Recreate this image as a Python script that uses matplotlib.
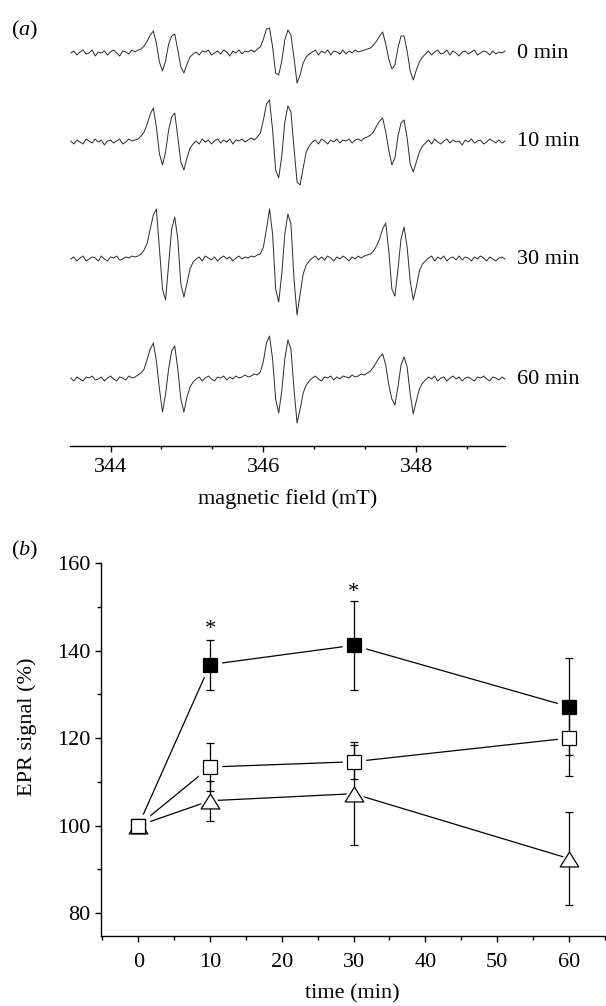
"""EPR spectra over time (a) and EPR signal change (b)."""

import matplotlib
matplotlib.use("Agg")
import matplotlib.pyplot as plt
import numpy as np
from matplotlib.path import Path
from matplotlib.ticker import AutoMinorLocator, MultipleLocator

plt.rcParams["font.family"] = ["Liberation Serif", "DejaVu Serif"]
plt.rcParams["mathtext.fontset"] = "custom"
plt.rcParams["mathtext.rm"] = "Liberation Serif"
plt.rcParams["mathtext.it"] = "Liberation Serif:italic"

# ---- panel (a): spectra sampled every 0.04 mT, intensity in arbitrary units
field_start, field_step, n_points = 343.48, 0.04, 143
trace_labels = ["0 min", "10 min", "30 min", "60 min"]

spec_0 = [0, 2, -2, 1, 3, -1, 0, 3, -3, 1, 0, 2, -2, 1, 3, 0, -3, 2, 1, -1, 3, 1,
          3, 4, 7, 12, 18, 22, 10, -9, -18, -8, 9, 17, 19, 3, -14, -20, -11, -4, -1,
          1, -2, 2, 1, 3, -2, 0, 2, -1, 3, 1, -3, 2, 0, 3, -1, 2, 1, 3, 1, 4,
          6, 14, 24, 25, 6, -20, -22, -8, 13, 23, 18, -5, -30, -22, -10, -4, -1,
          1, 3, -2, 2, 0, 3, -2, 2, 1, -1, 3, -1, 2, 0, 3, 1, 2, 3, 4,
          5, 8, 12, 17, 21, 9, -6, -16, -12, 5, 17, 17, 2, -18, -27, -17, -9, -4, -1,
          2, -2, 1, 3, -1, 0, 3, -2, 2, 0, -3, 1, 2, -1, 1, 3, -2, 0, 2, 1, -2, 2, -1, 1, 0, 2]
spec_10 = [1, -2, 2, 0, -2, 3, 1, -1, 3, 0, 2, -3, 1, 2, -1, 1, 3, -2, 0, 3, 1, 2,
           3, 6, 10, 18, 28, 34, 15, -12, -23, -10, 12, 25, 29, 5, -20, -28, -16, -6, -2,
           1, -2, 3, 0, 2, -2, 1, 3, -1, 2, 0, 3, -2, 2, 1, 3, 0, 2, 4, 2, 5,
           9, 22, 38, 42, 12, -28, -36, -14, 20, 36, 30, -6, -40, -43, -26, -10, -4,
           0, 2, -2, 3, 1, -2, 2, 0, 3, -1, 2, 1, 3, -1, 2, 3, 1, 4, 5,
           7, 10, 16, 21, 24, 10, -8, -23, -16, 6, 19, 22, 4, -22, -30, -20, -10, -4, -1,
           2, -2, 3, 0, -2, 1, 3, -1, 2, 0, 1, -3, 2, 0, 3, -1, 1, 2, -2, 0, 3, 1, -1, 2, -1, 1]
spec_30 = [0, 2, -2, 1, 3, -2, 0, 2, 1, -2, 3, 0, -2, 2, 1, 3, -1, 0, 2, 1, 3, 2,
           3, 5, 9, 16, 30, 44, 50, 10, -30, -41, -5, 30, 42, 20, -25, -38, -24, -10, -3,
           0, 2, -2, 3, 1, -1, 2, -2, 1, 3, 0, 2, -2, 1, 3, 0, 2, 1, 3, 2, 4,
           5, 12, 30, 50, 25, -30, -43, -15, 25, 45, 35, -20, -56, -35, -15, -6, -2,
           1, 3, -1, 2, -1, 3, 1, -2, 2, 0, 3, 1, -2, 2, 0, 3, 1, 3, 4,
           5, 8, 13, 20, 30, 36, 8, -30, -37, -10, 20, 32, 12, -22, -41, -28, -12, -5, -2,
           1, 3, -2, 2, 0, 3, -2, 1, 2, -1, 3, -1, 2, 1, -2, 2, 0, 3, 1, -2, 2, 0, -2, 1, 2, 0]
spec_60 = [1, -2, 2, 0, -2, 2, 1, 3, -1, 0, 2, -2, 1, 3, 0, -2, 2, 1, -1, 3, 1, 2,
           4, 6, 10, 20, 30, 36, 18, -10, -33, -15, 10, 28, 33, 10, -20, -33, -18, -8, -3,
           0, 2, -2, 1, 3, 0, -2, 2, 1, 3, -1, 2, 0, 3, 1, 2, 4, 2, 3, 5, 4,
           7, 18, 36, 43, 20, -20, -34, -12, 20, 39, 30, -10, -44, -30, -14, -6, -2,
           1, 3, 0, -2, 2, 1, 3, -1, 2, 0, 3, 2, 1, 4, 2, 3, 5, 4, 6,
           8, 12, 17, 22, 25, 14, -6, -20, -26, -8, 14, 22, 12, -15, -35, -22, -10, -4, -1,
           2, 0, 3, -2, 1, 2, -2, 1, 3, 0, 2, -2, 1, 2, 0, -2, 2, 1, 3, 0, -2, 2, 1, -1, 2, 0]
spectra = [spec_0, spec_10, spec_30, spec_60]

# ---- panel (b): EPR signal (%) vs time
time_min = [0, 10, 30, 60]
filled_sq = [100, 136.8, 141.2, 127.2]
filled_sq_err = [0, 5.7, 10.1, 11.0]
open_sq = [100, 113.4, 114.6, 120.0]
open_sq_err = [0, 5.5, 3.9, 8.6]
triangle = [100, 105.7, 107.3, 92.5]
triangle_err = [0, 4.6, 11.8, 10.6]
star_times = [10, 30]
star_values = [144.9, 153.2]

# layout
W, H = 606, 1006
trace_offsets = [-53, -142, -259, -379]

fig = plt.figure(figsize=(W / 100, H / 100), dpi=100)

# ---------------- panel (a)
ax_a = fig.add_axes([70 / W, 560 / H, 435 / W, 446 / H])
field = field_start + field_step * np.arange(n_points)
for spec, off, lab in zip(spectra, trace_offsets, trace_labels):
    ax_a.plot(field, off + np.asarray(spec), color="#2a2a2a", lw=0.7, clip_on=False)
    ax_a.text(349.32, off, lab, fontsize=16, va="center", ha="left")
ax_a.set_xlim(343.47, 349.16)
ax_a.set_ylim(-446, 0)
for side in ["left", "right", "top"]:
    ax_a.spines[side].set_visible(False)
ax_a.spines["bottom"].set_linewidth(1.0)
ax_a.set_yticks([])
ax_a.xaxis.set_major_locator(MultipleLocator(2))
ax_a.xaxis.set_minor_locator(AutoMinorLocator(3))
ax_a.tick_params(axis="x", which="major", direction="out", length=4, width=1.0,
                 labelsize=16, pad=5)
ax_a.tick_params(axis="x", which="minor", direction="out", length=2.5, width=1.0)
ax_a.set_xlabel("magnetic field (mT)", fontsize=16, labelpad=8)
ax_a.patch.set_visible(False)
fig.text(11 / W, 1 - 30 / H, "($a$)", fontsize=16, va="center", ha="left")

# ---------------- panel (b)
tri = Path([(-1, -0.8), (1, -0.8), (0, 0.8), (-1, -0.8)], closed=True)
ax_b = fig.add_axes([101 / W, 70 / H, 503.6 / W, 373 / H])
series = [
    (filled_sq, filled_sq_err, "s", 9.5, "black"),
    (triangle, triangle_err, tri, 13.4, "white"),
    (open_sq, open_sq_err, "s", 9.5, "white"),
]
for vals, err, mk, ms, fc in series:
    ax_b.plot(time_min, vals, color="black", lw=0.9, zorder=2)
    ax_b.plot(time_min, vals, ls="none", marker=mk, ms=ms + 7, mfc="white",
              mec="white", zorder=3)
for vals, err, mk, ms, fc in series:
    ax_b.errorbar(time_min[1:], vals[1:], yerr=err[1:], fmt="none", ecolor="black",
                  elinewidth=0.9, capsize=2.6, capthick=0.9, zorder=4)
for k, (vals, err, mk, ms, fc) in enumerate(series):
    ax_b.plot(time_min, vals, ls="none", marker=mk, ms=ms, mfc=fc, mec="black",
              mew=0.9, zorder=5 + k)
for t, v in zip(star_times, star_values):
    ax_b.text(t, v, "*", fontsize=16, ha="center", va="center")

ax_b.set_xlim(-5.2, 65)
ax_b.set_ylim(74.8, 160)
for side in ["right", "top"]:
    ax_b.spines[side].set_visible(False)
for side in ["left", "bottom"]:
    ax_b.spines[side].set_linewidth(1.0)
ax_b.xaxis.set_major_locator(MultipleLocator(10))
ax_b.xaxis.set_minor_locator(MultipleLocator(5))
ax_b.yaxis.set_major_locator(MultipleLocator(20))
ax_b.yaxis.set_minor_locator(MultipleLocator(10))
ax_b.tick_params(which="major", direction="out", length=4, width=1.0, labelsize=16)
ax_b.tick_params(axis="x", which="major", pad=8)
ax_b.tick_params(which="minor", direction="out", length=3, width=1.0)
ax_b.set_xlabel("time (min)", fontsize=16, labelpad=9)
ax_b.set_ylabel("EPR signal (%)", fontsize=16)
ax_b.yaxis.set_label_coords(-0.127, 0.56)
fig.text(11 / W, 1 - 550 / H, "($b$)", fontsize=16, va="center", ha="left")

fig.savefig("out.png", dpi=100)
